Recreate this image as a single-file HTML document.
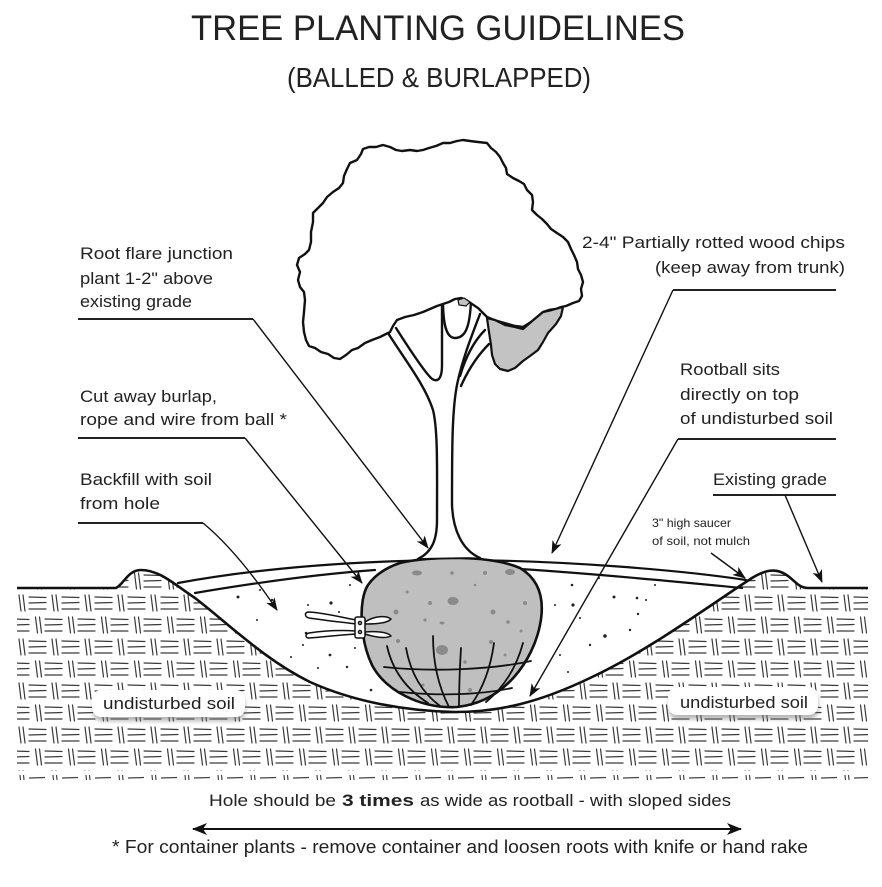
<!DOCTYPE html>
<html><head><meta charset="utf-8"><style>
html,body{margin:0;padding:0;background:#fff;}
svg{display:block;}
text{font-family:"Liberation Sans",sans-serif;fill:#222;}
</style></head><body>
<svg width="882" height="887" viewBox="0 0 882 887" xmlns="http://www.w3.org/2000/svg">
<defs>
<pattern id="soil" x="17" y="592" width="33" height="44" patternUnits="userSpaceOnUse">
<g stroke="#3a3a3a" stroke-width="1.2" fill="none" stroke-linecap="round">
<path d="M2,3 L4,19 M6,3 L8,19"/>
<path d="M12,5 L29,5.5 M12,11 L29,10.5 M12,17 L29,17"/>
<path d="M18.5,25 L20.5,41 M22.5,25 L24.5,41"/>
<path d="M28,27 L45,27.5 M28,33 L45,32.5 M28,39 L45,39 M-5,27 L12,27.5 M-5,33 L12,32.5 M-5,39 L12,39"/>
</g>
</pattern>
<pattern id="soilb" x="17" y="773" width="33" height="9" patternUnits="userSpaceOnUse">
<g stroke="#444" stroke-width="1.2" fill="none">
<path d="M3,2 L3.5,7 M6.5,2 L7,7 M12,5 L28,4.5"/>
</g>
</pattern>
<marker id="ah" markerWidth="13" markerHeight="10" refX="12" refY="5" orient="auto" markerUnits="userSpaceOnUse">
<path d="M0,0 L13,5 L0,10 L3.5,5 Z" fill="#111"/>
</marker>
<marker id="ah2" markerWidth="15" markerHeight="12" refX="14" refY="6" orient="auto-start-reverse" markerUnits="userSpaceOnUse">
<path d="M0,0 L15,6 L0,12 L4,6 Z" fill="#111"/>
</marker>
<filter id="blur" x="-10%" y="-30%" width="120%" height="160%"><feGaussianBlur stdDeviation="2"/></filter>
</defs>

<!-- Title -->
<text x="191" y="40" font-size="35" textLength="494" lengthAdjust="spacingAndGlyphs">TREE PLANTING GUIDELINES</text>
<text x="287" y="87" font-size="28" textLength="304" lengthAdjust="spacingAndGlyphs">(BALLED &amp; BURLAPPED)</text>

<!-- Soil region -->
<path d="M17,588 L116,588 C124,584 128,570 141,570 C160,570 175,585 195,598 C230,625 265,660 310,682 C350,700 400,711 455,712 C500,712 540,702 590,678 C650,650 710,605 752,578 C765,570 775,568 785,574 C795,580 798,588 808,588 L868,588 L868,771 L17,771 Z" fill="url(#soil)"/>
<rect x="17" y="773" width="851" height="9" fill="url(#soilb)"/>

<!-- Ground / hole line -->
<path d="M17,588 L116,588 C124,584 128,570 141,570 C160,570 175,585 195,598 C230,625 265,660 310,682 C350,700 400,711 455,712 C500,712 540,702 590,678 C650,650 710,605 752,578 C765,570 775,568 785,574 C795,580 798,588 808,588 L868,588" fill="none" stroke="#111" stroke-width="2.6" stroke-linejoin="round"/>

<!-- Backfill speckles -->
<g fill="#222">
<circle cx="238" cy="597" r="1.5"/><circle cx="272" cy="600" r="1.2"/><circle cx="257" cy="620" r="1"/>
<circle cx="308" cy="605" r="1"/><circle cx="331" cy="603" r="1.6"/><circle cx="306" cy="633" r="1.3"/>
<circle cx="330" cy="655" r="1.4"/><circle cx="347" cy="667" r="1.2"/><circle cx="371" cy="690" r="1.3"/>
<circle cx="303" cy="645" r="1"/><circle cx="339" cy="612" r="1"/><circle cx="345" cy="632" r="1.5"/>
<circle cx="350" cy="585" r="1"/><circle cx="291" cy="657" r="1"/><circle cx="318" cy="668" r="1"/>
<circle cx="572" cy="585" r="1.3"/><circle cx="573" cy="605" r="1.6"/><circle cx="580" cy="618" r="1"/>
<circle cx="614" cy="597" r="1.5"/><circle cx="637" cy="598" r="1.3"/><circle cx="638" cy="614" r="1.2"/>
<circle cx="605" cy="636" r="1.8"/><circle cx="646" cy="600" r="1"/><circle cx="630" cy="630" r="1.2"/>
<circle cx="590" cy="645" r="1.2"/><circle cx="560" cy="655" r="1"/><circle cx="555" cy="605" r="1"/>
<circle cx="599" cy="578" r="1"/><circle cx="568" cy="672" r="1"/><circle cx="655" cy="585" r="1"/>
<circle cx="260" cy="590" r="1"/><circle cx="355" cy="648" r="1"/>
</g>

<!-- Mulch band -->
<g fill="none" stroke="#111" stroke-width="2.2" stroke-linecap="round">
<path d="M178,583 C260,568 350,561 450,560 C560,560 680,570 746,580"/>
<path d="M195,593 C260,582 320,574 375,570"/>
<path d="M520,569 C600,574 680,582 742,588"/>
</g>

<!-- Rootball -->
<path d="M400,563 C430,556 490,555 520,568 C540,580 545,600 540,625 C533,660 505,702 457,707 C420,709 385,690 372,665 C360,640 358,600 368,585 C375,575 385,568 400,563 Z" fill="#bfbfbf" stroke="#111" stroke-width="2.6"/>
<g fill="#8a8a8a">
<ellipse cx="417" cy="573" rx="5" ry="2.5"/><circle cx="452" cy="573" r="1.8"/><circle cx="485" cy="573" r="2"/>
<ellipse cx="510" cy="572" rx="5" ry="3"/><ellipse cx="453" cy="601" rx="5.5" ry="4"/><circle cx="430" cy="603" r="2"/>
<circle cx="396" cy="612" r="2.5"/><circle cx="493" cy="612" r="2.5"/><circle cx="525" cy="603" r="2"/>
<circle cx="425" cy="620" r="1.6"/><ellipse cx="442" cy="623" rx="2.5" ry="1.5"/><circle cx="508" cy="622" r="1.8"/>
<circle cx="521" cy="631" r="1.5"/><circle cx="398" cy="641" r="2"/><circle cx="491" cy="642" r="2"/>
<ellipse cx="442" cy="650" rx="6" ry="5"/><circle cx="465" cy="662" r="1.8"/><circle cx="505" cy="655" r="1.5"/>
<circle cx="423" cy="685" r="1.5"/><circle cx="470" cy="690" r="2"/><circle cx="407" cy="592" r="1.5"/>
<circle cx="475" cy="585" r="1.3"/>
</g>
<!-- wire basket -->
<g fill="none" stroke="#111" stroke-width="1.8" stroke-linecap="round">
<path d="M384,667 C430,672 490,670 531,661"/>
<path d="M400,692 C440,696 480,695 512,688"/>
<path d="M387,646 Q395,682 428,703"/>
<path d="M406,648 Q413,686 440,706"/>
<path d="M433,636 Q433,676 449,707"/>
<path d="M461,648 Q459,682 459,707"/>
<path d="M494,643 Q489,680 471,705"/>
<path d="M523,643 Q513,680 486,702"/>
</g>

<!-- Shears -->
<g fill="#fff" stroke="#111" stroke-width="1.5" stroke-linejoin="round">
<path d="M356,620 C340,617 320,612 308,612 C304,613 305,617 309,618 C322,620 340,622 356,624 Z"/>
<path d="M356,631 C340,630 322,631 309,633 C305,634 305,638 309,638 C322,637 340,635 356,634 Z"/>
<path d="M365,622 C374,616 386,615 391,619 C388,623 376,624 365,624 Z"/>
<path d="M365,632 C376,631 388,632 391,636 C385,639 374,637 365,634 Z"/>
<rect x="355" y="617" width="10" height="21" rx="2"/>
<circle cx="360" cy="623" r="1.5"/><circle cx="360" cy="632" r="1.5"/>
</g>

<!-- Trunk -->
<path d="M388,333 C405,360 425,385 433,410 C438,430 437,470 437,520 C437,540 432,552 420,558 L478,557 C462,550 453,530 452,505 C452,470 452,420 457,385 C462,360 472,335 480,314 Z" fill="#fff" stroke="none"/>
<g fill="none" stroke="#111" stroke-width="2.4" stroke-linecap="round">
<path d="M388,333 C405,360 425,385 433,410 C438,430 437,470 437,520 C437,540 432,552 418,559"/>
<path d="M480,314 C472,335 462,360 457,385 C452,410 452,450 452,505 C453,530 462,550 480,558"/>
<path d="M396,328 C410,350 423,370 431,378 C437,383 442,380 442,365 L442,300"/>
<path d="M443,300 C443,320 445,338 455,338 C465,338 470,328 471,300"/>
<path d="M489,344 C479,354 469,368 461,386"/>
<path d="M485,330 C475,340 466,356 460,376"/>
</g>

<!-- Canopy -->
<path d="M390,332 L380,337 L372,340 L365,343 L358,348 L352,350 L346,355 L340,359 L334,358 L328,354 L321,352 L315,348 L309,346 L306,340 L304,332 L303,322 L304,312 L305,300 L304,292 L300,287 L298,280 L300,272 L297,265 L299,258 L305,254 L309,250 L311,242 L311,232 L313,222 L313,213 L318,208 L323,203 L327,197 L333,192 L339,188 L343,183 L344,176 L347,169 L350,163 L357,160 L361,154 L363,149 L369,147 L376,147 L383,145 L390,147 L396,150 L402,151 L410,150 L417,151 L423,150 L429,148 L436,146 L443,143 L450,143 L457,141 L463,140 L470,141 L478,142 L487,143 L491,148 L496,152 L500,157 L503,163 L506,168 L507,174 L513,178 L519,181 L524,184 L527,190 L532,195 L533,202 L532,210 L537,215 L542,219 L547,224 L551,229 L557,233 L563,237 L568,242 L571,249 L574,255 L577,262 L578,269 L581,275 L583,282 L581,289 L582,296 L579,301 L573,303 L566,306 L561,307 L556,309 L549,310 L543,312 L537,317 L531,322 L523,327 L515,326 L508,324 L501,322 L494,320 L487,317 L483,313 L478,308 L472,304 L466,300 L461,298 L455,299 L449,302 L443,304 L437,306 L430,309 L423,312 L414,315 L405,317 L397,320 L393,326 Z" fill="#fff" stroke="#111" stroke-width="2.4" stroke-linejoin="round"/>
<path d="M487,318 L495,320 L505,325 L515,327 L523,329 L531,322 L537,317 L543,312 L552,310 L563,307 L561,316 L556,324 L548,333 L543,342 L538,350 L530,356 L523,361 L515,368 L508,371 L500,369 L495,364 L492,355 L491,345 L489,332 Z" fill="#c3c3c3" stroke="#111" stroke-width="2.2" stroke-linejoin="round"/>
<path d="M458,300 L464,298 L470,302 L466,306 L459,305 Z" fill="#c3c3c3" stroke="#111" stroke-width="1.2"/>

<!-- Label boxes -->
<rect x="93" y="694" width="152" height="27" rx="9" fill="#777" opacity="0.55" filter="url(#blur)"/>
<rect x="92" y="690" width="153" height="27" rx="9" fill="#fff"/>
<text x="103" y="709" font-size="17" textLength="132" lengthAdjust="spacingAndGlyphs">undisturbed soil</text>
<rect x="669" y="691" width="149" height="28" rx="9" fill="#777" opacity="0.55" filter="url(#blur)"/>
<rect x="668" y="687" width="150" height="28" rx="9" fill="#fff"/>
<text x="680" y="708" font-size="17" textLength="128" lengthAdjust="spacingAndGlyphs">undisturbed soil</text>

<!-- Left labels -->
<g font-size="17">
<text x="80" y="259" textLength="153" lengthAdjust="spacingAndGlyphs">Root flare junction</text>
<text x="80" y="284" textLength="133" lengthAdjust="spacingAndGlyphs">plant 1-2" above</text>
<text x="80" y="307" textLength="112" lengthAdjust="spacingAndGlyphs">existing grade</text>
<text x="80" y="402" textLength="137" lengthAdjust="spacingAndGlyphs">Cut away burlap,</text>
<text x="80" y="425" textLength="207" lengthAdjust="spacingAndGlyphs">rope and wire from ball *</text>
<text x="80" y="485" textLength="132" lengthAdjust="spacingAndGlyphs">Backfill with soil</text>
<text x="80" y="509" textLength="80" lengthAdjust="spacingAndGlyphs">from hole</text>
<text x="582" y="248" textLength="263" lengthAdjust="spacingAndGlyphs">2-4" Partially rotted wood chips</text>
<text x="655" y="273" textLength="190" lengthAdjust="spacingAndGlyphs">(keep away from trunk)</text>
<text x="680" y="375" textLength="100" lengthAdjust="spacingAndGlyphs">Rootball sits</text>
<text x="680" y="400" textLength="119" lengthAdjust="spacingAndGlyphs">directly on top</text>
<text x="680" y="424" textLength="153" lengthAdjust="spacingAndGlyphs">of undisturbed soil</text>
<text x="713" y="485" textLength="114" lengthAdjust="spacingAndGlyphs">Existing grade</text>
</g>
<g font-size="12">
<text x="652" y="527" textLength="79" lengthAdjust="spacingAndGlyphs">3" high saucer</text>
<text x="652" y="545" textLength="98" lengthAdjust="spacingAndGlyphs">of soil, not mulch</text>
</g>

<!-- Leaders -->
<g fill="none" stroke="#222" stroke-width="2">
<path d="M78,319 L253,319"/>
<path d="M78,438 L245,438"/>
<path d="M78,523 L203,523"/>
<path d="M673,290 L836,290"/>
<path d="M678,439 L836,439"/>
<path d="M713,495 L836,495"/>
</g>
<g fill="none" stroke="#111" stroke-width="1.4">
<path d="M253,319 L428,548" marker-end="url(#ah)"/>
<path d="M245,438 L362,583" marker-end="url(#ah)"/>
<path d="M203,523 Q238,552 277,610" marker-end="url(#ah)"/>
<path d="M673,290 L552,553" marker-end="url(#ah)"/>
<path d="M678,439 L530,696" marker-end="url(#ah)"/>
<path d="M785,495 L822,582" marker-end="url(#ah)"/>
<path d="M711,553 L745,578" marker-end="url(#ah)"/>
</g>

<!-- Bottom -->
<text x="209" y="806" font-size="17" textLength="127" lengthAdjust="spacingAndGlyphs">Hole should be</text>
<text x="342" y="806" font-size="17" font-weight="bold" textLength="72" lengthAdjust="spacingAndGlyphs">3 times</text>
<text x="420" y="806" font-size="17" textLength="311" lengthAdjust="spacingAndGlyphs">as wide as rootball - with sloped sides</text>
<path d="M193,829 L741,829" stroke="#111" stroke-width="2" fill="none" marker-start="url(#ah2)" marker-end="url(#ah2)"/>
<text x="112" y="853" font-size="18" textLength="696" lengthAdjust="spacingAndGlyphs">* For container plants - remove container and loosen roots with knife or hand rake</text>
</svg>
</body></html>
